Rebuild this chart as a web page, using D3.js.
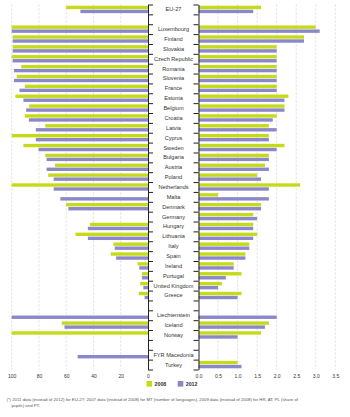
<!DOCTYPE html>
<html>
<head>
<meta charset="utf-8">
<script src="https://cdn.jsdelivr.net/npm/d3@7"></script>
<style>
  body { margin: 0; background: #fff; }
  svg { display: block; font-family: "Liberation Sans", Arial, sans-serif; }
  .grid line { stroke: #c8c8c8; stroke-width: 0.6; stroke-dasharray: 2,2; }
</style>
</head>
<body>
<svg width="350" height="417"></svg>
<script>
// rows, "" = empty spacer row
const rows = ["EU-27", "", "Luxembourg", "Finland", "Slovakia", "Czech Republic", "Romania", "Slovenia",
  "France", "Estonia", "Belgium", "Croatia", "Latvia", "Cyprus", "Sweden", "Bulgaria", "Austria",
  "Poland", "Netherlands", "Malta", "Denmark", "Germany", "Hungary", "Lithuania", "Italy", "Spain",
  "Ireland", "Portugal", "United Kingdom", "Greece", "", "Liechtenstein", "Iceland", "Norway", "",
  "FYR Macedonia", "Turkey"];

// share of pupils (%), left panel
const share2008 = [60, null, 100, 99.3, 99.3, 100, 93, 96.3, 90.4, 97.3, 87.2, 90.4, 75.4, 100, 91.4, 75.4,
  68.2, 73.2, 100, null, 60.1, null, 42.6, 53.2, 25.4, 27.3, 7.6, 4.4, 5.7, 6.7, null, null, 63.3, 100,
  null, null, null];
const share2012 = [49.6, null, 100, 99.3, 99.3, 99.3, 98.3, 98.3, 94.3, 91.4, 89.4, 87.4, 82.3, 82.3, 80.3,
  74.4, 74.4, 69.2, 69.2, 64.3, 58.4, null, 44.1, 44.1, 24.4, 23.4, 6.4, 4.4, 3.4, 2.5, null, 100, 61.3,
  null, null, 51.6, null];

// average number of languages, right panel
const langs2008 = [1.6, null, 3.0, 2.7, 2.0, 2.0, 2.0, 2.0, 2.0, 2.3, 2.2, 2.0, 1.8, 1.8, 2.2, 1.8, 1.7,
  1.5, 2.6, 0.5, 1.6, 1.4, 1.4, 1.5, 1.3, 1.2, 0.9, 1.1, 0.6, 1.1, null, null, 1.8, 1.6, null, null, 1.0];
const langs2012 = [1.4, null, 3.1, 2.7, 2.0, 2.0, 2.0, 2.0, 2.0, 2.2, 2.2, 1.9, 2.0, 1.8, 2.0, 1.8, 1.8,
  1.6, 1.8, 1.8, 1.6, 1.5, 1.4, 1.4, 1.3, 1.2, 0.9, 0.7, 0.5, 1.0, null, 2.0, 1.7, 1.0, null, null, 1.1];

const leftTicks = [100, 80, 60, 40, 20, 0];
const rightTicks = [0, 0.5, 1, 1.5, 2, 2.5, 3, 3.5];
const years = ["2008", "2012"];
const colors = { "2008": "#c6da1c", "2012": "#8b88ca" };

const footnote = [
  "(*)  2011 data (instead of 2012) for EU-27; 2007 data (instead of 2008) for MT (number of languages), 2009 data (instead of 2008) for HR, AT, PL (share of",
  "pupils) and PT."
];

const svg = d3.select("svg");
const yTop = 4.5, yBottom = 369.5;

// scales
const y = d3.scaleBand().domain(d3.range(rows.length)).range([yTop, yBottom]);
const yEdge = d3.scaleLinear().domain([0, rows.length]).range([yTop, yBottom]);
const ySub = d3.scaleBand().domain(years).range([-3.7, 3.7]).paddingInner(0.15);
const xL = d3.scaleLinear().domain([0, 100]).range([148, 11.7]);
const xR = d3.scaleLinear().domain([0, 3.5]).range([198.5, 335.3]);

// grid lines
svg.append("g").attr("class", "grid")
  .selectAll("line").data(leftTicks.filter(d => d > 0)).enter().append("line")
  .attr("x1", d => xL(d)).attr("x2", d => xL(d)).attr("y1", yTop).attr("y2", yBottom);
svg.append("g").attr("class", "grid")
  .selectAll("line").data(rightTicks.filter(d => d > 0)).enter().append("line")
  .attr("x1", d => xR(d)).attr("x2", d => xR(d)).attr("y1", yTop).attr("y2", yBottom);

// bars
function drawBars(data, year, xs) {
  const d = data.map((v, i) => ({ v: v, i: i })).filter(d => d.v != null);
  svg.append("g").selectAll("rect").data(d).enter().append("rect")
    .attr("x", d => Math.min(xs(0), xs(d.v)))
    .attr("width", d => Math.abs(xs(d.v) - xs(0)))
    .attr("y", d => y(d.i) + y.bandwidth() / 2 + ySub(year))
    .attr("height", ySub.bandwidth())
    .attr("fill", colors[year]);
}
drawBars(share2008, "2008", xL);
drawBars(share2012, "2012", xL);
drawBars(langs2008, "2008", xR);
drawBars(langs2012, "2012", xR);

// vertical axes with ticks at row edges
const leftAxis = d3.axisRight(yEdge).tickValues(d3.range(rows.length + 1)).tickFormat("").tickSize(5).tickSizeOuter(0);
const rightAxis = d3.axisLeft(yEdge).tickValues(d3.range(rows.length + 1)).tickFormat("").tickSize(5).tickSizeOuter(0);
svg.append("g").attr("transform", "translate(" + xL(0) + ",0)").call(leftAxis)
  .call(g => g.selectAll("line,path").attr("stroke", "#222").attr("stroke-width", 1));
svg.append("g").attr("transform", "translate(" + xR(0) + ",0)").call(rightAxis)
  .call(g => g.selectAll("line,path").attr("stroke", "#222").attr("stroke-width", 1));

// country labels
svg.append("g").selectAll("text").data(rows.map((r, i) => ({ r: r, i: i })).filter(d => d.r !== ""))
  .enter().append("text")
  .attr("x", 173.5)
  .attr("y", d => y(d.i) + y.bandwidth() / 2)
  .attr("dy", "0.35em")
  .attr("text-anchor", "middle")
  .attr("font-size", "5.6px")
  .attr("fill", "#333")
  .text(d => d.r);

// bottom tick labels
const bl = svg.append("g").attr("transform", "translate(0," + 372 + ")")
  .call(d3.axisBottom(xL).tickValues(leftTicks).tickSize(0).tickPadding(2));
const br = svg.append("g").attr("transform", "translate(0," + 372 + ")")
  .call(d3.axisBottom(xR).tickValues(rightTicks).tickSize(0).tickPadding(2));
[bl, br].forEach(g => {
  g.select(".domain").remove();
  g.selectAll("text").attr("font-size", "5px").attr("fill", "#333").attr("font-family", "Liberation Sans, Arial, sans-serif");
});

// legend
const legend = svg.append("g").attr("transform", "translate(146.5,381)");
years.forEach((yr, k) => {
  const g = legend.append("g").attr("transform", "translate(" + (k * 31.2) + ",0)");
  g.append("rect").attr("width", 5.6).attr("height", 5.6).attr("fill", colors[yr]);
  g.append("text").attr("x", 8).attr("y", 2.8).attr("dy", "0.35em")
    .attr("font-size", "5.3px").attr("font-weight", "bold").attr("fill", "#333").text(yr);
});

// footnote
svg.append("g").selectAll("text").data(footnote).enter().append("text")
  .attr("x", (d, i) => i === 0 ? 6.5 : 11.5)
  .attr("y", (d, i) => 401 + i * 5.6)
  .attr("font-size", "4.3px")
  .attr("fill", "#555")
  .text(d => d);
</script>
</body>
</html>
